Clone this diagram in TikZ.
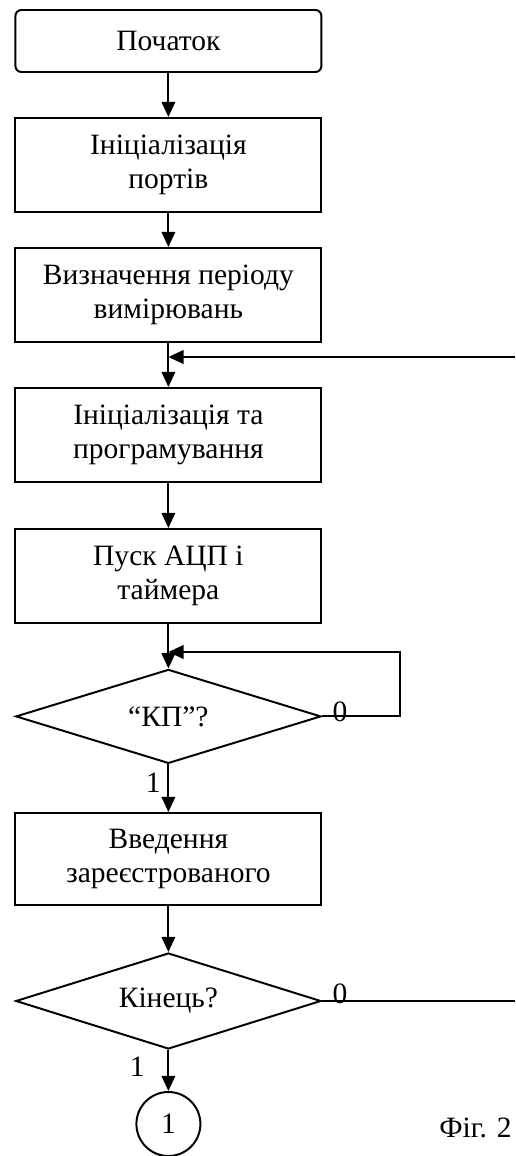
\documentclass[tikz,border=0pt]{standalone}
\usepackage{fontspec}
\setmainfont{Liberation Serif}
\usetikzlibrary{arrows.meta,shapes.geometric}

\begin{document}
\begin{tikzpicture}[font=\fontsize{21}{24}\selectfont,line width=1.4pt,
  block/.style={draw,minimum width=7.65cm,minimum height=2.35cm,align=center,inner sep=2pt},
  startbox/.style={block,rounded corners=.15cm,minimum height=1.55cm},
  decision/.style={draw,diamond,aspect=3.28,minimum width=7.63cm,minimum height=2.35cm,inner sep=1pt},
  connector/.style={draw,circle,minimum size=1.6cm,inner sep=0pt},
  conn/.style={-{Triangle[length=.38cm,width=.34cm]}},
  lbl/.style={inner sep=1pt}]
\def\cx{4.21}
\useasboundingbox (0,0) rectangle (12.875,-28.9);

\node[startbox] (start) at (\cx,-1.025) {Початок};
\node[block] (ports) at (\cx,-4.125) {Ініціалізація\\портів};
\node[block] (period) at (\cx,-7.375) {Визначення періоду\\вимірювань};
\node[block] (prog) at (\cx,-10.875) {Ініціалізація та\\програмування};
\node[block] (launch) at (\cx,-14.4) {Пуск АЦП і\\таймера};
\node[decision] (kp) at (\cx,-17.91) {“КП”?};
\node[block,minimum height=2.3cm] (input) at (\cx,-21.475) {Введення\\зареєстрованого};
\node[decision,minimum height=2.4cm] (finish) at (\cx,-25.025) {Кінець?};
\node[connector] (cont) at (\cx,-28.1) {1};

\coordinate (backA) at (12.875,-8.925); \coordinate (joinA) at (\cx,-8.925);
\coordinate (loopT) at (10,-16.3); \coordinate (joinB) at (\cx,-16.3);
\coordinate (backB) at (12.875,-25.025);

\draw[conn] (start)--(ports);
\draw[conn] (ports)--(period);
\draw[conn] (period)--(prog);
\draw[conn] (backA)--(joinA);
\draw[conn] (prog)--(launch);
\draw[conn] (launch)--(kp);
\draw[conn] (kp.east) -| (loopT) -- (joinB);
\draw[conn] (kp)--(input);
\draw[conn] (input)--(finish);
\draw (finish.east)--(backB);
\draw[conn] (finish)--(cont);

\node[lbl] (kp0) at (8.5,-17.8) {0};\node[lbl] (kp1) at (3.83,-19.58) {1};
\node[lbl] (fin0) at (8.5,-24.85) {0};\node[lbl] (fin1) at (3.43,-26.68) {1};
\node[anchor=east,inner sep=1pt] (fig) at (12.85,-28.2) {Фіг. 2};
\end{tikzpicture}
\end{document}
